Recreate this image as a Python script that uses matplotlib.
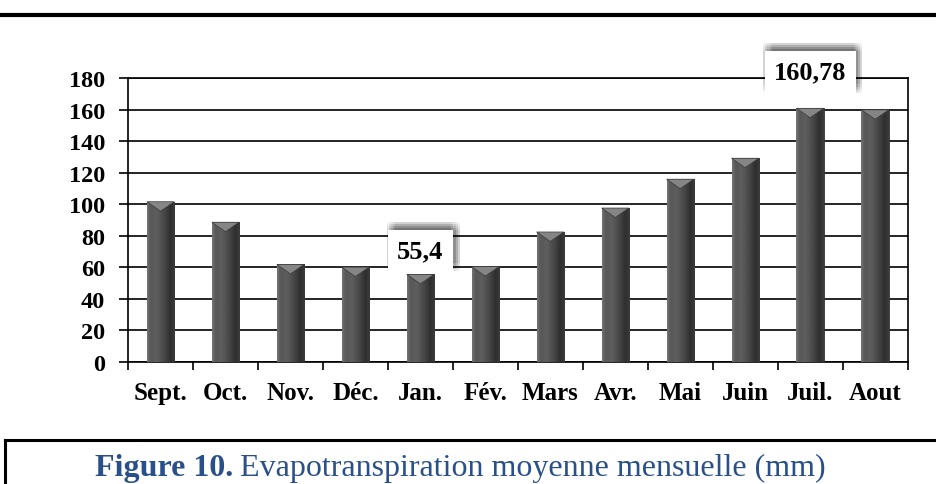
import numpy as np
import matplotlib
matplotlib.use("Agg")
import matplotlib.pyplot as plt
from matplotlib.lines import Line2D
from matplotlib.patches import Polygon
from matplotlib.colors import LinearSegmentedColormap
import matplotlib.patheffects as pe

# Evapotranspiration moyenne mensuelle (mm)
mois = ['Sept.', 'Oct.', 'Nov.', 'Déc.', 'Jan.', 'Fév.', 'Mars', 'Avr.',
        'Mai', 'Juin', 'Juil.', 'Aout']
etp = [101.5, 88.5, 61.7, 60.0, 55.4, 60.3, 82.3, 97.5, 115.8, 129.1, 160.78, 159.8]
labels_annot = {4: '55,4', 10: '160,78'}
yticks = list(range(0, 181, 20))

plt.rcParams['font.family'] = ['Liberation Serif', 'DejaVu Serif']

fig = plt.figure(figsize=(9.36, 4.85), dpi=100)
ax = fig.add_axes([0.1368, 0.2522, 0.8328, 0.5849])

x = np.arange(len(mois))
w = 0.42
bars = ax.bar(x, etp, width=w, color='#4a4a4a', edgecolor='#333333', linewidth=0.6, zorder=3)

# cylinder-like shading for each bar
shade = LinearSegmentedColormap.from_list('shade', [
    (0.0, '#747474'), (0.12, '#585858'), (0.35, '#5e5e5e'),
    (0.6, '#494949'), (0.85, '#2e2e2e'), (1.0, '#3c3c3c')])
grad = np.linspace(0, 1, 64).reshape(1, -1)
for xi, v, b in zip(x, etp, bars):
    im = ax.imshow(grad, cmap=shade, aspect='auto', extent=(xi - w / 2, xi + w / 2, 0, v),
                   zorder=4, interpolation='bicubic')
    im.set_clip_path(b)
    tri = Polygon([(xi - w / 2, v), (xi + w / 2, v), (xi, v - 6)], closed=True,
                  facecolor='#858585', edgecolor='#3a3a3a', linewidth=0.5, zorder=5)
    ax.add_patch(tri)

ax.set_xlim(-0.5, len(mois) - 0.5)
ax.set_ylim(0, 180)
ax.set_yticks(yticks)
ax.set_xticks(x)
ax.set_xticklabels(mois)
ax.set_xticks(np.arange(-0.5, len(mois), 1), minor=True)

ax.grid(axis='y', color='black', linewidth=1.2, zorder=1)
ax.set_axisbelow(True)
for s in ax.spines.values():
    s.set_linewidth(1.2)
    s.set_color('black')

ax.tick_params(axis='y', length=6.5, width=1.2, pad=10, labelsize=17.5)
ax.tick_params(axis='x', which='major', length=0, pad=14, labelsize=18)
ax.tick_params(axis='x', which='minor', length=6, width=1.2)
for lab in ax.get_xticklabels() + ax.get_yticklabels():
    lab.set_fontweight('bold')

# annotation boxes with a soft shadow
shadow = [pe.SimplePatchShadow(offset=(2 + dx, 3 + dy), shadow_rgbFace='black', alpha=0.035)
          for dx in (-3, -1.5, 0, 1.5, 3) for dy in (-3, -1.5, 0, 1.5, 3)]
for i, txt in labels_annot.items():
    ty = etp[i] + (15 if i == 4 else 23)
    t = ax.text(x[i], ty, txt, ha='center', va='center', fontsize=19, fontweight='bold', zorder=6,
                bbox=dict(boxstyle='square,pad=0.35', facecolor='white', edgecolor='none'))
    t.get_bbox_patch().set_path_effects(shadow + [pe.Normal()])

# page decorations
fig.add_artist(Line2D([0, 1], [0.968, 0.968], transform=fig.transFigure, color='black', linewidth=3))
fig.add_artist(Line2D([0.0053, 1], [0.0914, 0.0914], transform=fig.transFigure, color='black', linewidth=2.2))
fig.add_artist(Line2D([0.0053, 0.0053], [0.0914, 0], transform=fig.transFigure, color='black', linewidth=2.2))

t1 = fig.text(0.102, 0.035, 'Figure 10.', fontsize=23, fontweight='bold', color='#29508A',
              ha='left', va='center')
fig.canvas.draw()
bb = t1.get_window_extent()
x2 = (bb.x1 + 6) / fig.bbox.width
fig.text(x2, 0.035, 'Evapotranspiration moyenne mensuelle (mm)', fontsize=23,
         color='#29508A', ha='left', va='center')

fig.savefig('out.png', dpi=100)
